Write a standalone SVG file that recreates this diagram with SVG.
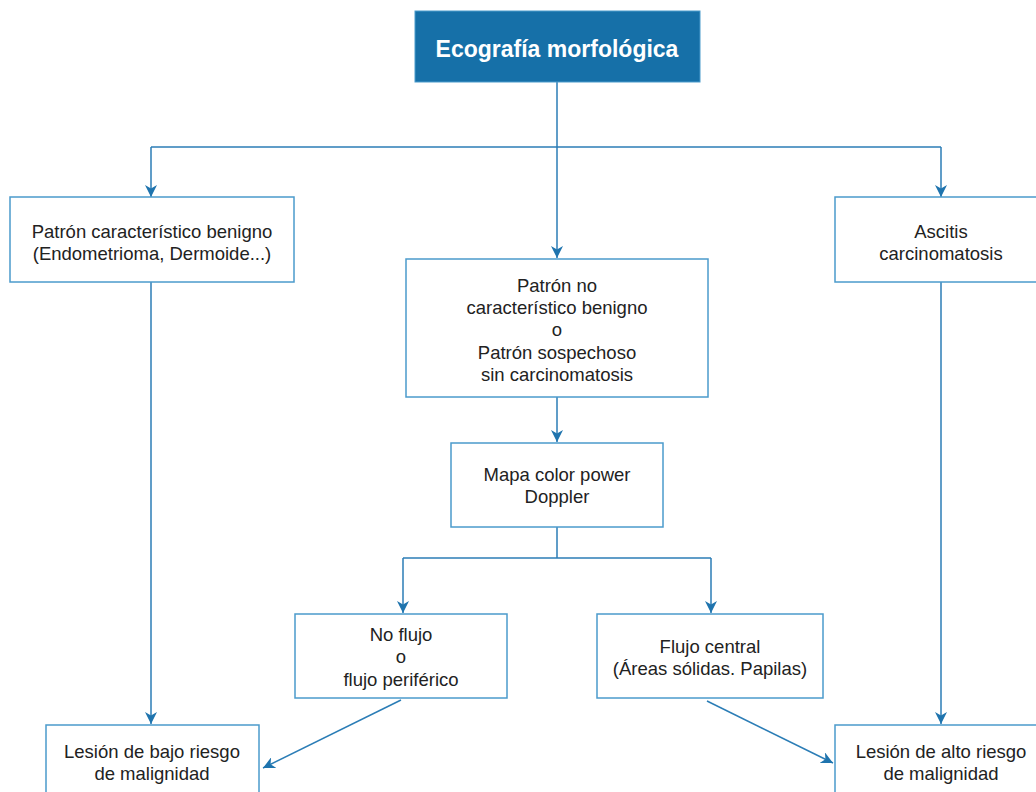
<svg xmlns="http://www.w3.org/2000/svg" width="1036" height="792" viewBox="0 0 1036 792">
<defs>
<style>
.box{fill:#fff;stroke:#4b9bcc;stroke-width:1.5}
.t{font-family:"Liberation Sans",Arial,sans-serif;font-size:18.5px;fill:#222;text-anchor:middle}
.title{font-family:"Liberation Sans",Arial,sans-serif;font-size:23px;font-weight:bold;fill:#fff;text-anchor:middle}
.c{fill:none;stroke:#2b7db6;stroke-width:1.5}
</style>
<marker id="ah" viewBox="0 0 10 10" refX="10" refY="5" markerWidth="12" markerHeight="12" markerUnits="userSpaceOnUse" orient="auto">
<path d="M0,0 L10,5 L0,10 L3,5 Z" fill="#1f74ae"/>
</marker>
</defs>
<rect width="1036" height="792" fill="#fff"/>
<g id="connectors">
<path class="c" d="M557,82 V147"/>
<path class="c" d="M151,147 H941"/>
<path class="c" d="M151,147 V197" marker-end="url(#ah)"/>
<path class="c" d="M557,147 V258" marker-end="url(#ah)"/>
<path class="c" d="M941,147 V197" marker-end="url(#ah)"/>
<path class="c" d="M557,397 V442" marker-end="url(#ah)"/>
<path class="c" d="M557,527 V558"/>
<path class="c" d="M403,558 H711"/>
<path class="c" d="M403,558 V613" marker-end="url(#ah)"/>
<path class="c" d="M711,558 V613" marker-end="url(#ah)"/>
<path class="c" d="M151,282 V724" marker-end="url(#ah)"/>
<path class="c" d="M941,282 V724" marker-end="url(#ah)"/>
<path class="c" d="M401,700 L263,768" marker-end="url(#ah)"/>
<path class="c" d="M707,701 L833,763" marker-end="url(#ah)"/>
</g>
<g id="n-eco">
<rect x="415" y="11" width="285" height="71" fill="#1670a8" stroke="#4b9bcc" stroke-width="1"/>
<text class="title" x="557" y="57">Ecografía morfológica</text>
</g>
<g id="n-benigno">
<rect class="box" x="10" y="197" width="284" height="85"/>
<text class="t" x="152" y="238">Patrón característico benigno</text>
<text class="t" x="152" y="260">(Endometrioma, Dermoide...)</text>
</g>
<g id="n-ascitis">
<rect class="box" x="835" y="197" width="212" height="85"/>
<text class="t" x="941" y="238">Ascitis</text>
<text class="t" x="941" y="260">carcinomatosis</text>
</g>
<g id="n-nocarac">
<rect class="box" x="406" y="259" width="302" height="138"/>
<text class="t" x="557" y="292">Patrón no</text>
<text class="t" x="557" y="314">característico benigno</text>
<text class="t" x="557" y="336">o</text>
<text class="t" x="557" y="359">Patrón sospechoso</text>
<text class="t" x="557" y="381">sin carcinomatosis</text>
</g>
<g id="n-doppler">
<rect class="box" x="451" y="443" width="212" height="84"/>
<text class="t" x="557" y="481">Mapa color power</text>
<text class="t" x="557" y="503">Doppler</text>
</g>
<g id="n-noflujo">
<rect class="box" x="295" y="614" width="212" height="84"/>
<text class="t" x="401" y="641">No flujo</text>
<text class="t" x="401" y="663">o</text>
<text class="t" x="401" y="686">flujo periférico</text>
</g>
<g id="n-central">
<rect class="box" x="597" y="614" width="226" height="84"/>
<text class="t" x="710" y="653">Flujo central</text>
<text class="t" x="710" y="675">(Áreas sólidas. Papilas)</text>
</g>
<g id="n-bajo">
<rect class="box" x="46" y="725" width="213" height="80"/>
<text class="t" x="152" y="758">Lesión de bajo riesgo</text>
<text class="t" x="152" y="780">de malignidad</text>
</g>
<g id="n-alto">
<rect class="box" x="835" y="725" width="212" height="80"/>
<text class="t" x="941" y="758">Lesión de alto riesgo</text>
<text class="t" x="941" y="780">de malignidad</text>
</g>
</svg>
